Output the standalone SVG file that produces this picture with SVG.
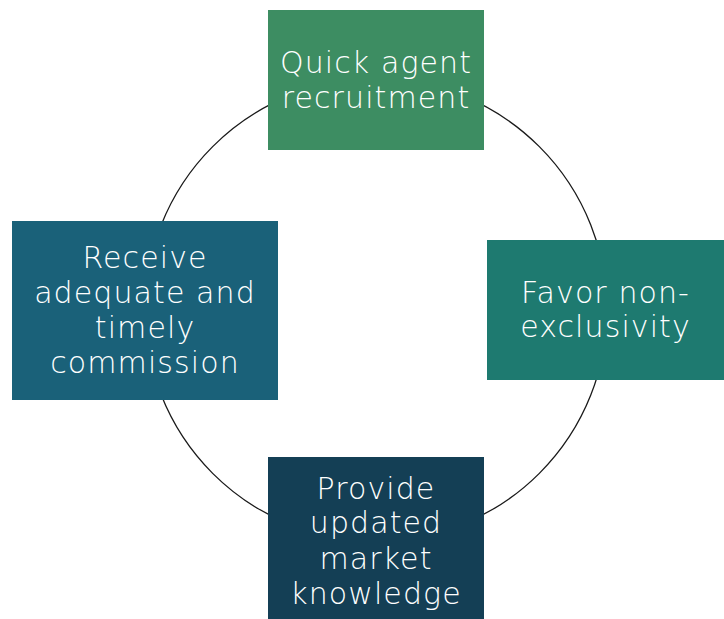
<svg xmlns="http://www.w3.org/2000/svg" width="724" height="619" viewBox="0 0 724 619">
<style>
.lbl{font-family:"DejaVu Sans",sans-serif;font-size:30px;fill:#ffffff;text-anchor:middle;font-weight:300;letter-spacing:1.1px}
</style>
<rect width="724" height="619" fill="#ffffff"/>
<g id="connectors">
<circle cx="376" cy="310" r="231" fill="none" stroke="#1a1a1a" stroke-width="1.3"/>
</g>
<g id="node-top">
<rect x="268" y="10" width="216" height="140" fill="#3d8d62"/>
<text class="lbl" x="376" y="73">Quick agent</text>
<text class="lbl" x="376" y="108">recruitment</text>
</g>
<g id="node-right">
<rect x="487" y="240" width="237" height="140" fill="#1e7a70"/>
<text class="lbl" x="605.5" y="303">Favor non-</text>
<text class="lbl" x="605.5" y="337">exclusivity</text>
</g>
<g id="node-bottom">
<rect x="268" y="457" width="216" height="162" fill="#143f55"/>
<text class="lbl" x="376" y="499">Provide</text>
<text class="lbl" x="376" y="533">updated</text>
<text class="lbl" x="376" y="569">market</text>
<text class="lbl" x="376" y="604">knowledge</text>
</g>
<g id="node-left">
<rect x="12" y="221" width="266" height="179" fill="#1a6179"/>
<text class="lbl" x="145" y="268">Receive</text>
<text class="lbl" x="145" y="303">adequate and</text>
<text class="lbl" x="145" y="338">timely</text>
<text class="lbl" x="145" y="373">commission</text>
</g>
</svg>
